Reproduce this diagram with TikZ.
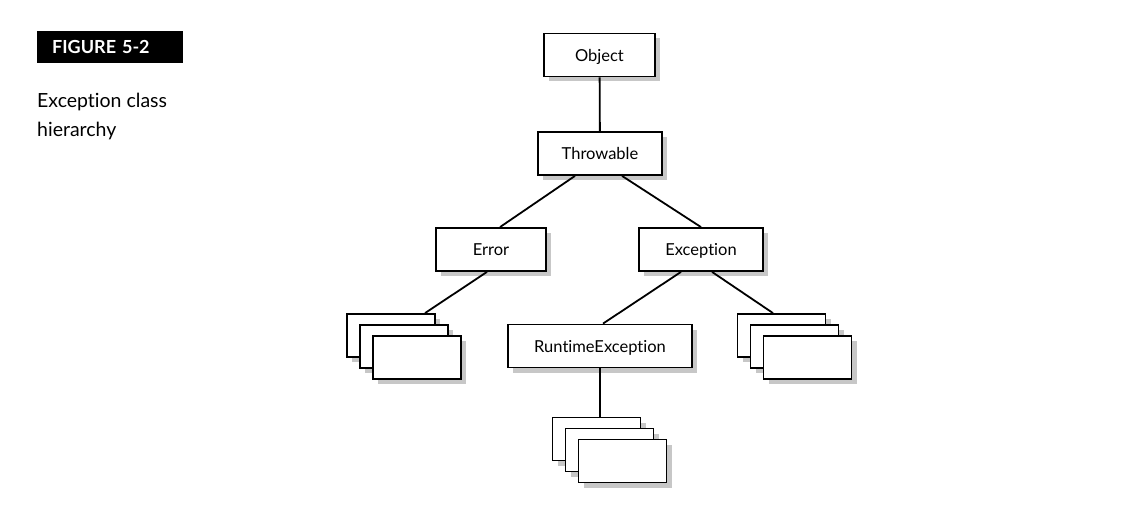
\documentclass[tikz,border=0pt]{standalone}
\usepackage{fontspec}
\setmainfont{Lato}[Ligatures=NoCommon]
\usetikzlibrary{calc}
\usetikzlibrary{shadows}

\tikzset{
	classbox/.style={draw, line width=1.8pt, fill=white, inner sep=0pt,
		minimum height=43pt, text depth=0pt, font=\fontsize{16.5}{20}\selectfont,
		drop shadow={shadow xshift=5pt, shadow yshift=-5pt, fill=black!22, opacity=1}},
	stackbox/.style={classbox, minimum width=88pt},
	link/.style={line width=1.8pt},
}

\begin{document}
\begin{tikzpicture}[x=1pt,y=-1pt]
				\useasboundingbox (0,0) rectangle (1126,521);
				
				\node[fill=black, text=white, anchor=west, inner xsep=15pt, inner ysep=0pt, text depth=0pt,
					minimum height=32pt, text width=116pt, font=\fontsize{18}{20}\selectfont\bfseries] (figlabel) at (37,47) {FIGURE 5-2};
				\node[anchor=base west, inner sep=0pt, font=\fontsize{19.5}{23}\selectfont] (captop) at (37,108) {Exception class};
				\node[anchor=base west, inner sep=0pt, font=\fontsize{19.5}{23}\selectfont] (capbot) at (37,137) {hierarchy};
				
				\node[classbox, minimum width=111pt] (obj) at (599.5,55) {Object};
				\node[classbox, minimum width=124pt] (thr) at (600,153.5) {Throwable};
				\node[classbox, minimum width=110pt] (err) at (491,249.5) {Error};
				\node[classbox, minimum width=124pt] (exc) at (701,249.5) {Exception};
				\node[classbox, minimum width=184pt] (rte) at (600,346) {RuntimeException};
				
				\foreach \i in {0,1,2} {
					\node[stackbox] (errs\i) at (391+13*\i,335.5+11*\i) {};
					\node[stackbox] (excs\i) at (781.5+13*\i,335.5+11*\i) {};
					\node[stackbox] (rtes\i) at (596.5+13*\i,439+11*\i) {};
				}
				
				\draw[link] (obj) -- (thr);
				\draw[link] ($(thr.south)+(-25,0)$) -- ($(err.north)+(9,0)$);
				\draw[link] ($(thr.south)+(22,0)$) -- (exc.north);
				\draw[link] ($(err.south)+(-4,0)$) -- ($(errs0.north)+(34,0)$);
				\draw[link] ($(exc.south)+(-20,0)$) -- ($(rte.north)+(3,0)$);
				\draw[link] ($(exc.south)+(11,0)$) -- ($(excs0.north)+(-8.5,0)$);
				\draw[link] (rte.south) -- (rte.south |- rtes0.north);
			\end{tikzpicture}
\end{document}
